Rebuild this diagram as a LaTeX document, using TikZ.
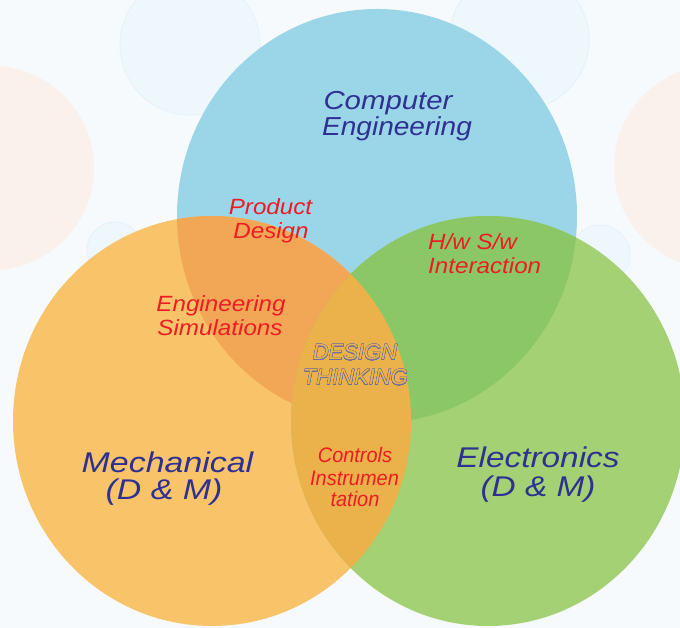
\documentclass[tikz,border=0pt]{standalone}
\usepackage{fontspec}
\setmainfont{Liberation Sans}
\usepackage{graphicx}
\usepackage{contour}
\contourlength{0.25pt}
\contournumber{24}
\definecolor{bgc}{HTML}{F6FAFD}
\definecolor{bubb}{HTML}{EEF7FC}
\definecolor{bubbe}{HTML}{E6F3FA}
\definecolor{bubo}{HTML}{FBF1EC}
\definecolor{cblue}{HTML}{9BD5E8}
\definecolor{corange}{HTML}{F9C36A}
\definecolor{cgreen}{HTML}{A3D173}
\definecolor{cbo}{HTML}{F2A757}
\definecolor{cbg}{HTML}{8BC766}
\definecolor{cog}{HTML}{EBB14B}
\definecolor{tblue}{HTML}{2E3192}
\definecolor{tred}{HTML}{ED1C24}
\definecolor{outc}{HTML}{70709E}
\begin{document}
\begin{tikzpicture}[x=1pt,y=1pt,
  txt/.style={inner sep=0pt, anchor=base},
  bigblue/.style={txt, text=tblue, font=\fontsize{28.5}{28.5}\selectfont\itshape},
  compblue/.style={txt, text=tblue, font=\fontsize{26}{26}\selectfont\itshape},
  redtxt/.style={txt, text=tred, font=\fontsize{22}{22}\selectfont\itshape},
  ctrltxt/.style={txt, text=tred, font=\fontsize{21}{21}\selectfont\itshape},
  dtxt/.style={txt, text=cog, font=\fontsize{22}{22}\selectfont\itshape},
  bubble/.style={fill=bubb, draw=bubbe, line width=1pt},
  obubble/.style={fill=bubo}
]
\useasboundingbox (0,0) rectangle (680,628);
\fill[bgc] (0,0) rectangle (680,628);
% faint background bubbles
\fill[obubble] (-8,460) circle (102);
\fill[obubble] (716,461) circle (102);
\path[bubble] (190,583) circle (70);
\path[bubble] (519,588) circle (70);
\path[bubble] (115,378) circle (28);
\path[bubble] (600,373) circle (30);
% main ellipses
\fill[cblue] (377,412) ellipse [x radius=200, y radius=207];
\fill[corange] (212,207) ellipse [x radius=199, y radius=205];
\fill[cgreen] (488,207) ellipse [x radius=197, y radius=205];
\begin{scope}
  \clip (377,412) ellipse [x radius=200, y radius=207];
  \fill[cbo] (212,207) ellipse [x radius=199, y radius=205];
  \fill[cbg] (488,207) ellipse [x radius=197, y radius=205];
\end{scope}
\begin{scope}
  \clip (212,207) ellipse [x radius=199, y radius=205];
  \fill[cog] (488,207) ellipse [x radius=197, y radius=205];
\end{scope}
% labels
\node[compblue] (comp1) at (388,518) {\scalebox{1.13}[1]{Computer}};
\node[compblue] (comp2) at (397,492) {\scalebox{1.08}[1]{Engineering}};
\node[redtxt] (prod1) at (270.5,413) {\scalebox{1.1}[1]{Product}};
\node[redtxt] (prod2) at (271,389) {\scalebox{1.1}[1]{Design}};
\node[redtxt, anchor=base west] (hw1) at (428,378) {\scalebox{1.1}[1]{H/w S/w}};
\node[redtxt, anchor=base west] (hw2) at (428,354) {\scalebox{1.1}[1]{Interaction}};
\node[redtxt] (sim1) at (221,316) {\scalebox{1.1}[1]{Engineering}};
\node[redtxt] (sim2) at (220,292) {\scalebox{1.1}[1]{Simulations}};
\node[dtxt] (dt1) at (355,268) {\contour{outc}{DESIGN}};
\node[dtxt] (dt2) at (355.5,243) {\contour{outc}{THINKING}};
\node[ctrltxt] (ci1) at (355,165) {\scalebox{0.95}[1]{Controls}};
\node[ctrltxt] (ci2) at (354.5,142) {\scalebox{0.95}[1]{Instrumen}};
\node[ctrltxt] (ci3) at (355,121) {\scalebox{0.95}[1]{tation}};
\node[bigblue] (mech1) at (167.5,155) {\scalebox{1.19}[1]{Mechanical}};
\node[bigblue] (mech2) at (164,128) {\scalebox{1.19}[1]{(D \& M)}};
\node[bigblue] (elec1) at (538,160) {\scalebox{1.17}[1]{Electronics}};
\node[bigblue] (elec2) at (538,131) {\scalebox{1.17}[1]{(D \& M)}};
\end{tikzpicture}
\end{document}
